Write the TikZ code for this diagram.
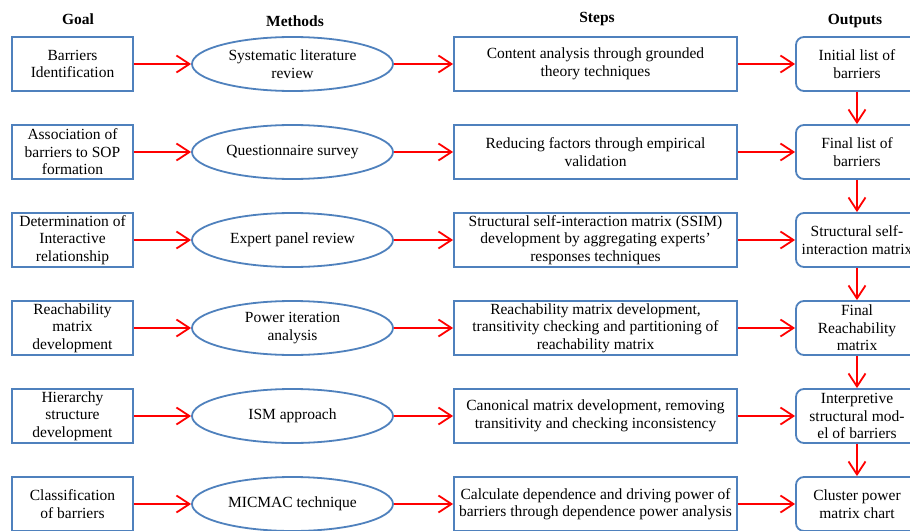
\documentclass[tikz,border=0pt]{standalone}
\usepackage{fontspec}
\setmainfont{Liberation Serif}
\usepackage{tikz}
\usetikzlibrary{arrows.meta,shapes.geometric}
\definecolor{azulISM}{RGB}{79,129,189}
\definecolor{rojoISM}{RGB}{255,0,0}

\begin{document}
\begin{tikzpicture}[
  x=1pt, y=-1pt,
  txt/.style    = {font=\fontsize{15.5}{17.5}\selectfont, align=center, inner sep=1pt},
  goal/.style   = {txt, rectangle, minimum width=121pt, minimum height=54pt,
                   draw=azulISM, line width=1.8pt},
  method/.style = {txt, ellipse, minimum width=201pt, minimum height=54pt,
                   draw=azulISM, line width=1.8pt},
  stepbox/.style= {txt, rectangle, minimum width=283pt, minimum height=54pt,
                   draw=azulISM, line width=1.8pt},
  output/.style = {txt, rectangle, rounded corners=8pt, minimum width=122pt,
                   minimum height=54pt, draw=azulISM, line width=1.8pt},
  head/.style   = {font=\fontsize{15.5}{17.5}\selectfont\bfseries},
  flow/.style   = {-{Straight Barb[length=13pt,width=17pt]}, line width=1.8pt, color=rojoISM},
]
% ── Lienzo ───────────────────────────────────────────────────
\fill[white] (0,0) rectangle (910,530);
\useasboundingbox (0,0) rectangle (910,530);

% ── Encabezados ──────────────────────────────────────────────
\node[head] (hGoal) at (78,19)  {Goal};
\node[head] (hMeth) at (295,21) {Methods};
\node[head] (hStep) at (597,19) {Steps};
\node[head] (hOut)  at (855,21) {Outputs};

% ── Columna Goal ─────────────────────────────────────────────
\node[goal] (g1) at (72.5,64)  {Barriers\\Identification};
\node[goal] (g2) at (72.5,152) {Association of\\barriers to SOP\\formation};
\node[goal] (g3) at (72.5,240) {Determination of\\Interactive\\relationship};
\node[goal] (g4) at (72.5,328) {Reachability\\matrix\\development};
\node[goal] (g5) at (72.5,416) {Hierarchy\\structure\\development};
\node[goal] (g6) at (72.5,504) {Classification\\of barriers};

% ── Columna Methods ──────────────────────────────────────────
\node[method] (m1) at (292.5,64)  {Systematic literature\\review};
\node[method] (m2) at (292.5,152) {Questionnaire survey};
\node[method] (m3) at (292.5,240) {Expert panel review};
\node[method] (m4) at (292.5,328) {Power iteration\\analysis};
\node[method] (m5) at (292.5,416) {ISM approach};
\node[method] (m6) at (292.5,504) {MICMAC technique};

% ── Columna Steps ────────────────────────────────────────────
\node[stepbox] (s1) at (595.5,64)  {Content analysis through grounded\\theory techniques};
\node[stepbox] (s2) at (595.5,152) {Reducing factors through empirical\\validation};
\node[stepbox] (s3) at (595.5,240) {Structural self-interaction matrix (SSIM)\\development by aggregating experts’\\responses techniques};
\node[stepbox] (s4) at (595.5,328) {Reachability matrix development,\\transitivity checking and partitioning of\\reachability matrix};
\node[stepbox] (s5) at (595.5,416) {Canonical matrix development, removing\\transitivity and checking inconsistency};
\node[stepbox] (s6) at (595.5,504) {Calculate dependence and driving power of\\barriers through dependence power analysis};

% ── Columna Outputs ──────────────────────────────────────────
\node[output] (o1) at (857,64)  {Initial list of\\barriers};
\node[output] (o2) at (857,152) {Final list of\\barriers};
\node[output] (o3) at (857,240) {Structural self-\\interaction matrix};
\node[output] (o4) at (857,328) {Final\\Reachability\\matrix};
\node[output] (o5) at (857,416) {Interpretive\\structural mod-\\el of barriers};
\node[output] (o6) at (857,504) {Cluster power\\matrix chart};

% ── Flechas horizontales ─────────────────────────────────────
\draw[flow] (g1) -- (m1);  \draw[flow] (m1) -- (s1);  \draw[flow] (s1) -- (o1);
\draw[flow] (g2) -- (m2);  \draw[flow] (m2) -- (s2);  \draw[flow] (s2) -- (o2);
\draw[flow] (g3) -- (m3);  \draw[flow] (m3) -- (s3);  \draw[flow] (s3) -- (o3);
\draw[flow] (g4) -- (m4);  \draw[flow] (m4) -- (s4);  \draw[flow] (s4) -- (o4);
\draw[flow] (g5) -- (m5);  \draw[flow] (m5) -- (s5);  \draw[flow] (s5) -- (o5);
\draw[flow] (g6) -- (m6);  \draw[flow] (m6) -- (s6);  \draw[flow] (s6) -- (o6);

% ── Flechas verticales (Outputs) ─────────────────────────────
\draw[flow] (o1) -- (o2);
\draw[flow] (o2) -- (o3);
\draw[flow] (o3) -- (o4);
\draw[flow] (o4) -- (o5);
\draw[flow] (o5) -- (o6);

\end{tikzpicture}
\end{document}
